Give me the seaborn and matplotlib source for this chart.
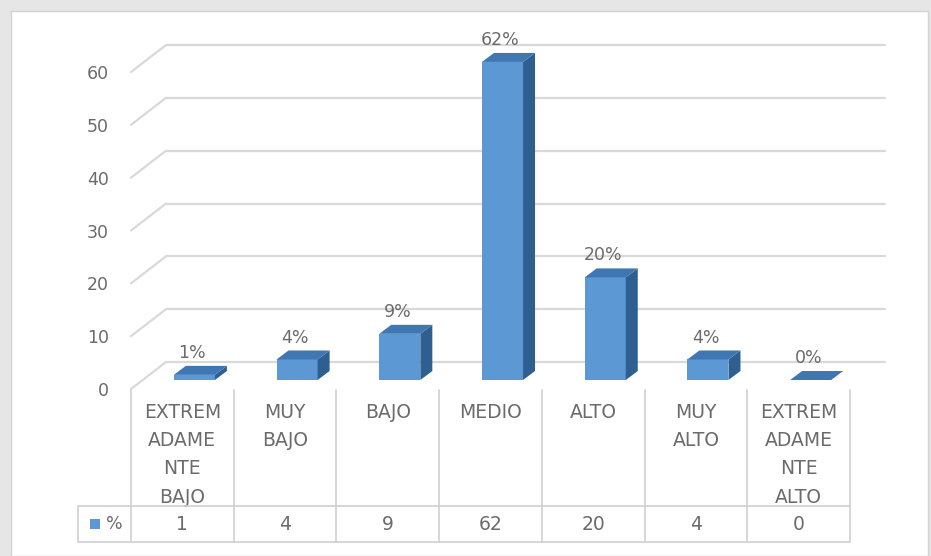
import matplotlib
matplotlib.use("Agg")
import matplotlib.pyplot as plt
import seaborn as sns
import pandas as pd
from matplotlib.patches import Polygon, Rectangle
from matplotlib.transforms import Affine2D, IdentityTransform, blended_transform_factory

# ---- data -------------------------------------------------------------
categories = ["EXTREMADAMENTE BAJO", "MUY BAJO", "BAJO", "MEDIO",
              "ALTO", "MUY ALTO", "EXTREMADAMENTE ALTO"]
category_labels = ["EXTREM\nADAME\nNTE\nBAJO", "MUY\nBAJO", "BAJO", "MEDIO",
                   "ALTO", "MUY\nALTO", "EXTREM\nADAME\nNTE\nALTO"]
percent = [1, 4, 9, 62, 20, 4, 0]
y_ticks = [0, 10, 20, 30, 40, 50, 60]
series_name = "%"

# ---- style ------------------------------------------------------------
sns.set_theme(style="white")
plt.rcParams["font.family"] = ["DejaVu Sans"]

W, H = 931, 556
TEXT = "#6b6b6b"
GRID = "#d9d9d9"
FRONT = "#5b98d4"
TOP = "#3f77b3"
SIDE = "#2f5f91"
DEPTH_WALL = (35, 27)      # floor depth in pixels
DEPTH_BAR = (12, 9)        # column depth in pixels

fig = plt.figure(figsize=(W / 100, H / 100), dpi=100, facecolor="#e6e6e6")

# white chart area
fig.add_artist(Rectangle((11 / W, 0), (928 - 11) / W, 1 - 11 / H,
                         transform=fig.transFigure, facecolor="white",
                         edgecolor="#d2d2d2", linewidth=1.0, zorder=0))

# front plane of the 3-D box: category and value axes
ax = fig.add_axes([131 / W, 1 - 389 / H, 719 / W, 317 / H])
ax.set_xlim(-0.5, len(categories) - 0.5)
ax.set_ylim(0, 60)
ax.patch.set_visible(False)
for s in ax.spines.values():
    s.set_visible(False)
ax.set_yticks(y_ticks)
ax.set_yticklabels([str(t) for t in y_ticks])
ax.tick_params(axis="y", length=0, pad=16, labelsize=12.5, labelcolor=TEXT)
ax.set_xticks(range(len(categories)))
ax.set_xticklabels(category_labels, linespacing=1.62)
ax.tick_params(axis="x", length=0, pad=10, labelsize=13.5, labelcolor=TEXT)
ax.grid(False)

# back wall gridlines with their diagonal floor stubs
back = ax.transData + Affine2D().translate(*DEPTH_WALL)
ident = IdentityTransform()
for t in y_ticks:
    ax.plot([-0.5, len(categories) - 0.5], [t, t], transform=back,
            color=GRID, lw=1.6, clip_on=False, zorder=0)
    x0, y0 = ax.transData.transform((-0.5, t))
    ax.plot([x0, x0 + DEPTH_WALL[0]], [y0, y0 + DEPTH_WALL[1]],
            transform=ident, color=GRID, lw=1.6, clip_on=False, zorder=0)

# columns
ax2 = fig.add_axes([143 / W, 1 - 380 / H, 719 / W, (380 - 72.2) / H])
df = pd.DataFrame({"categoria": categories, "pct": percent})
sns.barplot(data=df, x="categoria", y="pct", ax=ax2, color=FRONT,
            saturation=1, width=0.4, edgecolor="none", linewidth=0)
ax2.set_xlim(-0.5, len(categories) - 0.5)
ax2.set_ylim(0, 60)
ax2.axis("off")

dx, dy = DEPTH_BAR
for i, p in enumerate(list(ax2.patches)):
    p.set_clip_on(False)
    x_l, y_b = ax2.transData.transform((p.get_x(), 0))
    x_r, y_t = ax2.transData.transform((p.get_x() + p.get_width(), p.get_height()))
    side = Polygon([(x_r, y_b), (x_r + dx, y_b + dy), (x_r + dx, y_t + dy), (x_r, y_t)],
                   closed=True, transform=ident, facecolor=SIDE, edgecolor="none",
                   clip_on=False)
    top = Polygon([(x_l, y_t), (x_r, y_t), (x_r + dx, y_t + dy), (x_l + dx, y_t + dy)],
                  closed=True, transform=ident, facecolor=TOP, edgecolor="none",
                  clip_on=False)
    ax2.add_artist(side)
    ax2.add_artist(top)

# data labels
for i, v in enumerate(percent):
    ax2.annotate(f"{v}%", xy=(i, v), xytext=(-1.5, 15.8), textcoords="offset points",
                 ha="center", va="center", fontsize=12.5, color=TEXT,
                 annotation_clip=False)

# data table under the categories
px = Affine2D().scale(1, -1).translate(0, H)   # pixel coords measured from top
edges = [ax.transData.transform((k - 0.5, 0))[0] for k in range(len(categories) + 1)]
key_left = 78
for e in edges:
    fig.add_artist(plt.Line2D([e, e], [390, 542], transform=px, color="#d0d0d0", lw=1.2))
fig.add_artist(plt.Line2D([key_left, key_left], [506, 542], transform=px, color="#d0d0d0", lw=1.2))
for yy in (506, 542):
    fig.add_artist(plt.Line2D([key_left, edges[-1]], [yy, yy], transform=px,
                              color="#d0d0d0", lw=1.2))

row = blended_transform_factory(ax.transData, px)
for i, v in enumerate(percent):
    ax.text(i, 525, str(v), transform=row, ha="center", va="center",
            fontsize=13.5, color=TEXT, clip_on=False)

fig.add_artist(Rectangle((90, H - 529), 10, 10, transform=ident,
                         facecolor=FRONT, edgecolor="none"))
fig.text(106, H - 524, series_name, transform=ident, ha="left", va="center",
         fontsize=12.5, color=TEXT)

fig.savefig("out.png", dpi=100, facecolor=fig.get_facecolor())
